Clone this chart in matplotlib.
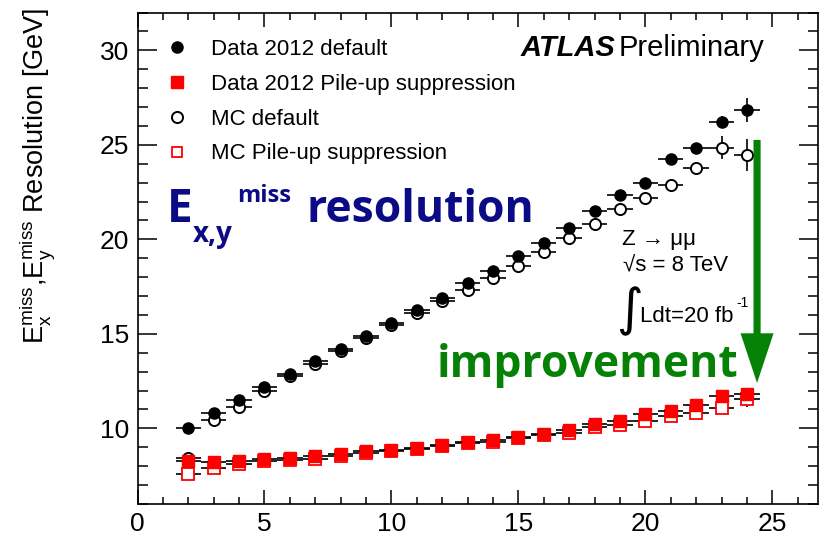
import matplotlib
matplotlib.use("Agg")
import matplotlib.pyplot as plt
from matplotlib.lines import Line2D
from matplotlib.ticker import MultipleLocator

plt.rcParams['font.family'] = ['Liberation Sans', 'DejaVu Sans']
plt.rcParams['mathtext.fontset'] = 'custom'
plt.rcParams['mathtext.rm'] = 'Liberation Sans'
plt.rcParams['mathtext.it'] = 'Liberation Sans:italic'

# ---- data ----
npv = list(range(2, 25))
data_default = [10.0, 10.8, 11.5, 12.2, 12.9, 13.55, 14.2, 14.9, 15.55, 16.25, 16.9,
                17.68, 18.35, 19.1, 19.83, 20.6, 21.5, 22.35, 23.0, 24.25, 24.82, 26.2, 26.85]
data_default_err = [0.05]*19 + [0.1, 0.15, 0.3, 0.65]
mc_default = [8.45, 10.45, 11.15, 12.0, 12.75, 13.4, 14.1, 14.8, 15.45, 16.1, 16.72,
              17.3, 17.93, 18.57, 19.32, 20.05, 20.8, 21.6, 22.2, 22.9, 23.8, 24.85, 24.47]
mc_default_err = [0.05]*19 + [0.15, 0.3, 0.6, 0.85]
data_pu = [8.25, 8.23, 8.28, 8.37, 8.42, 8.52, 8.65, 8.78, 8.85, 8.97, 9.1,
           9.28, 9.37, 9.55, 9.72, 9.93, 10.25, 10.4, 10.77, 10.9, 11.25, 11.7, 11.8]
data_pu_err = [0.03]*20 + [0.08, 0.15, 0.35]
mc_pu = [7.57, 7.93, 8.12, 8.26, 8.35, 8.38, 8.55, 8.7, 8.8, 8.9, 9.05,
         9.22, 9.3, 9.47, 9.63, 9.77, 10.05, 10.2, 10.38, 10.63, 10.8, 11.07, 11.56]
mc_pu_err = [0.03]*20 + [0.1, 0.2, 0.45]
bin_half = 0.5

legend_labels = ["Data 2012 default", "Data 2012 Pile-up suppression",
                 "MC default", "MC Pile-up suppression"]
ylabel = r"$\mathregular{E_x^{miss}}$,$\mathregular{E_y^{miss}}$ Resolution [GeV]"

W, H = 822, 535
fig = plt.figure(figsize=(W/100, H/100), dpi=100)
ax = fig.add_axes([137.5/W, 1-504/H, (818-137.5)/W, (504-12.5)/H])
ax.set_xlim(0, 26.8)
ax.set_ylim(6, 32)

ekw = dict(ls='none', ecolor='black', elinewidth=1.2, capsize=0)
ax.errorbar(npv, mc_default, xerr=bin_half, yerr=mc_default_err, marker='o', ms=8,
            mfc='white', mec='black', mew=1.4, zorder=3, **ekw)
ax.errorbar(npv, data_default, xerr=bin_half, yerr=data_default_err, marker='o', ms=8,
            mfc='black', mec='black', zorder=4, **ekw)
ax.errorbar(npv, mc_pu, xerr=bin_half, yerr=mc_pu_err, marker='s', ms=8.5,
            mfc='white', mec='red', mew=1.3, zorder=5, **ekw)
ax.errorbar(npv, data_pu, xerr=bin_half, yerr=data_pu_err, marker='s', ms=9,
            mfc='red', mec='red', zorder=6, **ekw)

# axes style (ROOT-like)
ax.xaxis.set_major_locator(MultipleLocator(5))
ax.xaxis.set_minor_locator(MultipleLocator(1))
ax.yaxis.set_major_locator(MultipleLocator(5))
ax.yaxis.set_minor_locator(MultipleLocator(1))
ax.tick_params(axis='both', which='both', direction='in', top=True, right=True,
               width=1.1, labelsize=19, colors='black')
ax.tick_params(axis='x', which='major', length=10, pad=6)
ax.tick_params(axis='x', which='minor', length=5)
ax.tick_params(axis='y', which='major', length=14, pad=6)
ax.tick_params(axis='y', which='minor', length=7)
for s in ax.spines.values():
    s.set_linewidth(1.2)

fig.text(37/W, 1-8/H, ylabel, rotation=90, ha='center', va='top', fontsize=19.5)

# legend
handles = [
    Line2D([], [], ls='none', marker='o', ms=8, mfc='black', mec='black'),
    Line2D([], [], ls='none', marker='s', ms=8, mfc='red', mec='red'),
    Line2D([], [], ls='none', marker='o', ms=8, mfc='white', mec='black', mew=1.4),
    Line2D([], [], ls='none', marker='s', ms=7.5, mfc='white', mec='red', mew=1.3),
]
ax.legend(handles, legend_labels, loc='upper left', bbox_to_anchor=(0.041, 0.946),
          frameon=False, fontsize=16, borderpad=0, borderaxespad=0,
          handlelength=1.0, handletextpad=1.05, labelspacing=0.62)

# ATLAS label
fig.text(521/W, 1-56/H, "ATLAS", fontsize=21, fontweight='bold', fontstyle='italic')
fig.text(619/W, 1-56/H, "Preliminary", fontsize=21)

# info text
fig.text(622/W, 1-240/H, "Z → μμ", fontsize=16, va='center')
fig.text(623/W, 1-266/H, "√s = 8 TeV", fontsize=16, va='center')
fig.text(616/W, 1-311/H, "∫", fontsize=37, va='center', family=['DejaVu Sans'])
fig.text(640/W, 1-316/H, "Ldt=20 fb", fontsize=16, va='center')
fig.text(736/W, 1-303/H, "-1", fontsize=10, va='center')

# big annotation
navy = '#0b0b86'
bfont = ['Open Sans', 'DejaVu Sans']
fig.text(167/W, 1-222/H, "E", fontsize=33, fontweight='bold', color=navy, family=bfont)
fig.text(193/W, 1-242/H, "x,y", fontsize=20, fontweight='bold', color=navy, family=bfont)
fig.text(237/W, 1-202/H, "miss", fontsize=17, fontweight='bold', color=navy, family=bfont)
fig.text(306/W, 1-222/H, "resolution", fontsize=32, fontweight='bold', color=navy, family=bfont)

green = '#058205'
fig.text(437/W, 1-377/H, "improvement", fontsize=32, fontweight='bold', color=green, family=bfont)

# arrow (data coordinates)
arrow_x, arrow_top, arrow_tip = 24.4, 25.26, 12.4
ax.arrow(arrow_x, arrow_top, 0, arrow_tip - arrow_top, width=0.28, head_width=1.3,
         head_length=2.63, length_includes_head=True, color=green, lw=0, zorder=7)

fig.savefig("out.png", dpi=100)
